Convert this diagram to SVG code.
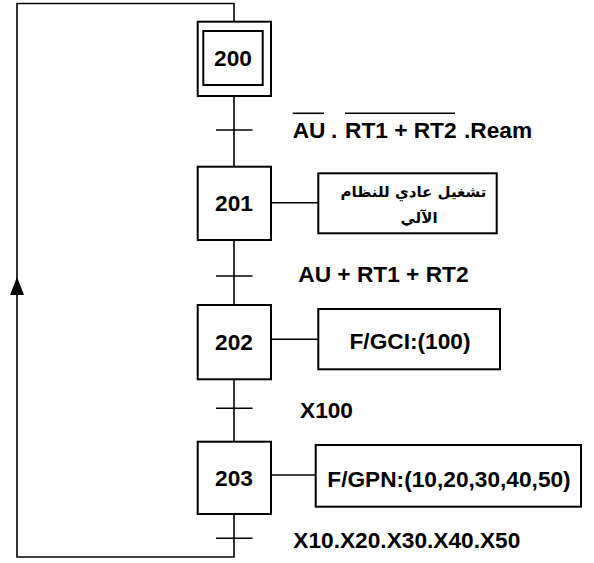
<svg xmlns="http://www.w3.org/2000/svg" width="594" height="563" viewBox="0 0 594 563">
<style>
.box{fill:#fff;stroke:#000;stroke-width:2}
.ln{fill:none;stroke:#000;stroke-width:1.6}
.t{font-family:"Liberation Sans",Arial,sans-serif;font-weight:bold;font-size:22.7px;fill:#000}
.c{text-anchor:middle}
.ar{font-family:"DejaVu Sans","Noto Sans",sans-serif;font-weight:bold;font-size:15px;fill:#000;text-anchor:middle}
</style>
<rect width="594" height="563" fill="#fff"/>
<g id="connectors">
<path class="ln" d="M234,21.7 V3.5 H17 V557 H234 V514"/>
<path d="M17,277 L10,295 L24,295 Z" fill="#000"/>
<line class="ln" x1="234" y1="96" x2="234" y2="166.7"/>
<line class="ln" x1="234" y1="240" x2="234" y2="305"/>
<line class="ln" x1="234" y1="379" x2="234" y2="441.7"/>
<line class="ln" x1="216" y1="130" x2="252.5" y2="130"/>
<line class="ln" x1="216" y1="276" x2="252.5" y2="276"/>
<line class="ln" x1="216" y1="408.3" x2="252.5" y2="408.3"/>
<line class="ln" x1="216" y1="538.3" x2="252.5" y2="538.3"/>
<line class="ln" x1="271" y1="202.7" x2="318.3" y2="202.7"/>
<line class="ln" x1="271" y1="339.3" x2="318.3" y2="339.3"/>
<line class="ln" x1="271" y1="475" x2="315.7" y2="475"/>
</g>
<g id="step200">
<rect class="box" x="197.7" y="21.7" width="73.3" height="74.3"/>
<rect class="box" x="203.3" y="31" width="59.4" height="54"/>
<text class="t c" x="233" y="65.5">200</text>
</g>
<g id="trans1">
<text class="t" y="138"><tspan x="292.7">AU</tspan><tspan x="331">.</tspan><tspan x="345">RT1 + RT2</tspan><tspan x="464">.Ream</tspan></text>
<line class="ln" x1="292.7" y1="113.3" x2="324" y2="113.3"/>
<line class="ln" x1="345" y1="113.3" x2="455" y2="113.3"/>
</g>
<g id="step201">
<rect class="box" x="197.7" y="166.7" width="73.3" height="73.3"/>
<text class="t c" x="234" y="211">201</text>
</g>
<g id="action201">
<rect class="box" x="318.3" y="173.3" width="178.4" height="60"/>
<text class="ar" x="413.5" y="196.7" direction="rtl">تشغيل عادي للنظام</text>
<text class="ar" x="419" y="223" direction="rtl">الآلي</text>
</g>
<g id="trans2">
<text class="t" x="298.3" y="281.7">AU + RT1 + RT2</text>
</g>
<g id="step202">
<rect class="box" x="197.7" y="305" width="73.3" height="74.3"/>
<text class="t c" x="234" y="349.5">202</text>
</g>
<g id="action202">
<rect class="box" x="318.3" y="309" width="181.7" height="60.3"/>
<text class="t c" x="410" y="349.3">F/GCI:(100)</text>
</g>
<g id="trans3">
<text class="t" x="300" y="418.3">X100</text>
</g>
<g id="step203">
<rect class="box" x="197.7" y="441.7" width="73.3" height="72.3"/>
<text class="t c" x="234" y="486">203</text>
</g>
<g id="action203">
<rect class="box" x="315.7" y="445" width="265.3" height="61.7"/>
<text class="t c" x="449" y="486.7">F/GPN:(10,20,30,40,50)</text>
</g>
<g id="trans4">
<text class="t" x="293.3" y="548.3">X10.X20.X30.X40.X50</text>
</g>
</svg>
